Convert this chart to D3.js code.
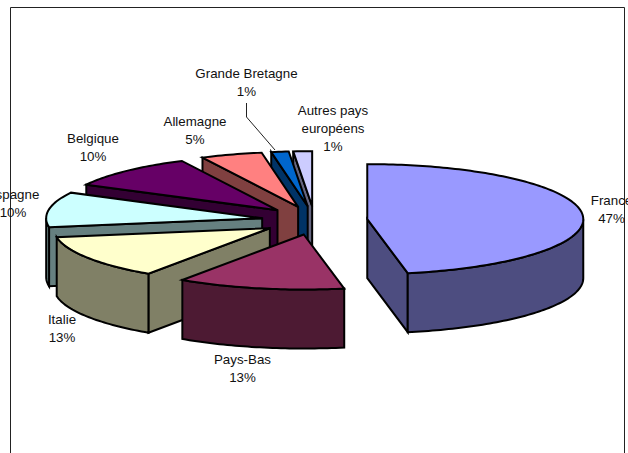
<!DOCTYPE html>
<html>
<head>
    <meta charset="utf-8">
    <script src="https://d3js.org/d3.v7.min.js"></script>
    <style>
        html, body { margin: 0; padding: 0; background: #fff; overflow: hidden; }
        text { font-family: "Liberation Sans", Arial, sans-serif; font-size: 13.33px; fill: #111; text-anchor: middle; }
    </style>
</head>
<body>
<div id="chart"></div>

<script>
    // values, labels show them rounded
    var countries = ["France", "Pays-Bas", "Italie", "Espagne", "Belgique", "Allemagne", "Grande Bretagne", "Autres pays européens"];
    var shares = [47, 12.5, 12.9, 10.3, 10, 4.6, 1.3, 1.4];
    var colors = ["#9999ff", "#993366", "#ffffcc", "#ccffff", "#660066", "#ff8080", "#0066cc", "#ccccff"];

    var width = 628, height = 453;
    var cx = 314.5, cy = 220.5;   // centre of the pie before explosion
    var rx = 216, ry = 55;        // top ellipse
    var depth = 59;
    var explode = 53;             // how far each slice is pulled out

    // label placement: x centre and first baseline
    var labelX = [611.5, 242.5, 62, 13, 93, 195, 246.5, 333];
    var labelY = [205, 364, 324, 199, 143, 126, 78, 115];
    var labelLines = [["France"], ["Pays-Bas"], ["Italie"], ["Espagne"], ["Belgique"], ["Allemagne"], ["Grande Bretagne"], ["Autres pays", "européens"]];

    var svg = d3.select("#chart")
        .append("svg")
        .attr("width", width)
        .attr("height", height)
        .style("display", "block");

    // chart frame, bottom edge is cut off in the picture
    svg.append("path")
        .attr("d", "M10.5," + height + "V7.5H624.5V" + height)
        .attr("fill", "none")
        .attr("stroke", "#222")
        .attr("stroke-width", 1);

    var pie = d3.pie().sort(null).value(function(d) { return d; });
    var slices = pie(shares);

    var color = d3.scaleOrdinal().domain(countries).range(colors);
    function darker(c) {
        var r = d3.rgb(c);
        return d3.rgb(r.r / 2, r.g / 2, r.b / 2).formatHex();
    }

    var line = d3.line();

    function rim(a, o) {
        return [o[0] + rx * Math.sin(a), o[1] - ry * Math.cos(a)];
    }
    function down(p) {
        return [p[0], p[1] + depth];
    }
    function arcPoints(a0, a1, o) {
        var n = Math.max(2, Math.ceil((a1 - a0) / 0.02));
        return d3.range(n + 1).map(function(i) {
            return rim(a0 + (a1 - a0) * i / n, o);
        });
    }

    // back slices first, each one overlaps the one behind it; France stands apart
    var order = [7, 6, 5, 4, 3, 2, 1, 0];
    var g = svg.append("g")
        .attr("stroke", "#000")
        .attr("stroke-width", 2)
        .attr("stroke-linejoin", "miter");

    order.forEach(function(i) {
        var s = slices[i];
        var mid = (s.startAngle + s.endAngle) / 2;
        var o = [cx + explode * Math.sin(mid), cy - explode * (ry / rx) * 1.06 * Math.cos(mid)];
        var side = darker(color(countries[i]));
        var sg = g.append("g");

        // cut faces, only those turned towards the viewer
        if (Math.sin(s.startAngle) < -1e-6) {
            var p = rim(s.startAngle, o);
            sg.append("path").attr("fill", side)
                .attr("d", line([o, p, down(p), down(o)]) + "Z");
        }
        if (Math.sin(s.endAngle) > 1e-6) {
            var q = rim(s.endAngle, o);
            sg.append("path").attr("fill", side)
                .attr("d", line([o, q, down(q), down(o)]) + "Z");
        }

        // outer wall, front half of the ellipse only
        var a0 = Math.max(s.startAngle, Math.PI / 2);
        var a1 = Math.min(s.endAngle, Math.PI * 1.5);
        if (a1 > a0) {
            var top = arcPoints(a0, a1, o);
            var wall = top.concat(top.map(down).reverse());
            sg.append("path").attr("fill", side)
                .attr("d", line(wall) + "Z");
        }

        // top face
        var face = [o].concat(arcPoints(s.startAngle, s.endAngle, o));
        sg.append("path").attr("fill", color(countries[i]))
            .attr("d", line(face) + "Z");
    });

    // leader line of Grande Bretagne
    svg.append("path")
        .attr("d", "M246.5,103V117L275,150")
        .attr("fill", "none")
        .attr("stroke", "#222")
        .attr("stroke-width", 1);

    // labels
    countries.forEach(function(c, i) {
        var t = svg.append("text").attr("x", labelX[i]).attr("y", labelY[i]);
        var rows = labelLines[i].concat([Math.round(shares[i]) + "%"]);
        rows.forEach(function(r, k) {
            t.append("tspan")
                .attr("x", labelX[i])
                .attr("dy", k === 0 ? 0 : 18)
                .text(r);
        });
    });
</script>
</body>
</html>
